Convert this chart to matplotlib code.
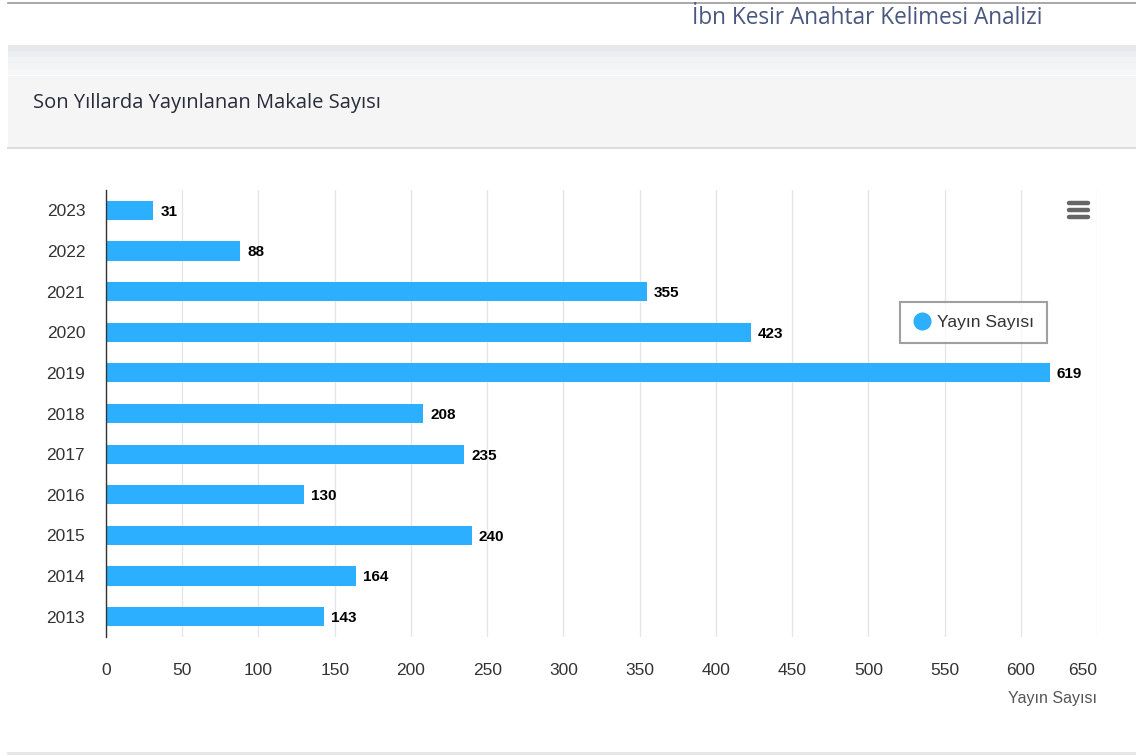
import matplotlib
matplotlib.use("Agg")
import matplotlib.pyplot as plt
from matplotlib.patches import Rectangle
from matplotlib.lines import Line2D

years = ["2013", "2014", "2015", "2016", "2017", "2018", "2019", "2020", "2021", "2022", "2023"]
counts = [143, 164, 240, 130, 235, 208, 619, 423, 355, 88, 31]
xticks = list(range(0, 651, 50))
series_name = "Yayın Sayısı"
page_title = "İbn Kesir Anahtar Kelimesi Analizi"
card_title = "Son Yıllarda Yayınlanan Makale Sayısı"

W, H = 1136, 756
fig = plt.figure(figsize=(W / 100, H / 100), dpi=100)
fig.patch.set_facecolor("white")

# background layer in pixel coordinates
bg = fig.add_axes([0, 0, 1, 1], zorder=0)
bg.set_xlim(0, W)
bg.set_ylim(H, 0)
bg.axis("off")
bg.plot([8, W], [3, 3], color="#9a9a9a", lw=1.2)
bg.text(1042, 18, page_title, ha="right", va="center", fontsize=16.3,
        color="#4a5880", family=["Open Sans", "DejaVu Sans"])
# shadow band
for i, c in enumerate(["#e6e8eb", "#eceef1", "#f0f2f4", "#f3f4f6", "#f5f6f7"]):
    bg.add_patch(Rectangle((8, 45 + i * 6), W - 8, 6, color=c, lw=0))
# card header
bg.add_patch(Rectangle((8, 76), W - 8, 72, color="#f5f5f5", lw=0))
bg.plot([8, W], [148, 148], color="#dddddd", lw=1.5)
bg.text(33, 103, card_title, ha="left", va="center", fontsize=14.5,
        color="#2a2a3a", family=["Open Sans", "DejaVu Sans"])
bg.plot([8, W], [753, 753], color="#e6e6e6", lw=2)
# hamburger icon
for yy in (203, 210, 217):
    bg.plot([1069, 1088], [yy, yy], color="#666666", lw=3.2, solid_capstyle="round")

# chart
x0, x1 = 106, 1097
y0, y1 = 190, 637
ax = fig.add_axes([x0 / W, 1 - y1 / H, (x1 - x0) / W, (y1 - y0) / H], zorder=1)
ax.patch.set_alpha(0)
pos = list(range(len(years)))
ax.barh(pos, counts, height=0.47, color="#2caffe", zorder=2)
for p, v in zip(pos, counts):
    ax.annotate(str(v), (v, p), xytext=(5, -1), textcoords="offset points",
                ha="left", va="center", fontsize=11, fontweight="bold",
                color="black", family=["Liberation Sans", "DejaVu Sans"])
ax.set_xlim(0, 650)
ax.set_ylim(-0.5, len(years) - 0.5)
ax.set_xticks(xticks)
ax.set_xticklabels([str(t) for t in xticks])
ax.set_yticks(pos)
ax.set_yticklabels(years)
ax.tick_params(axis="both", length=0, labelsize=12.5, labelcolor="#333333")
ax.tick_params(axis="x", pad=19)
ax.tick_params(axis="y", pad=15)
for lab in ax.get_xticklabels() + ax.get_yticklabels():
    lab.set_family(["Liberation Sans", "DejaVu Sans"])
ax.get_xticklabels()[-1].set_horizontalalignment("right")
ax.grid(axis="x", color="#e6e6e6", lw=1, zorder=0)
ax.set_axisbelow(True)
for s in ("top", "right", "bottom"):
    ax.spines[s].set_visible(False)
ax.spines["left"].set_color("#333333")
ax.spines["left"].set_linewidth(1)
ax.set_xlabel(series_name, fontsize=11.5, color="#555555", loc="right",
              labelpad=9, family=["Liberation Sans", "DejaVu Sans"])

handle = Line2D([], [], marker="o", ls="none", markersize=12,
                markerfacecolor="#2caffe", markeredgecolor="#2caffe")
leg = ax.legend([handle], [series_name], loc="upper left",
                bbox_to_anchor=(891 / W, 1 - 293 / H), bbox_transform=fig.transFigure,
                frameon=True, fancybox=False, borderpad=0.75,
                handletextpad=0.3, handlelength=1.1,
                prop={"family": ["Liberation Sans", "DejaVu Sans"], "size": 12.5})
leg.get_frame().set_edgecolor("#888888")
leg.get_frame().set_linewidth(1.5)
for t in leg.get_texts():
    t.set_color("#333333")

fig.savefig("out.png", dpi=100)
